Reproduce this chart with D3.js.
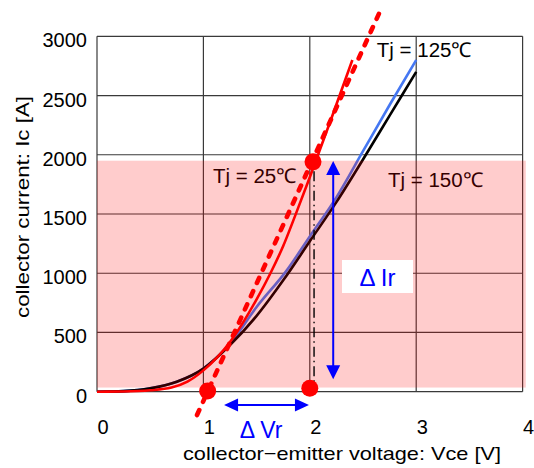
<!DOCTYPE html>
<html>
<head>
<meta charset="utf-8">
<script src="https://cdn.jsdelivr.net/npm/d3@7"></script>
<style>
  html, body { margin: 0; padding: 0; background: #fff; }
  svg { display: block; font-family: "Liberation Sans", Arial, sans-serif; }
</style>
</head>
<body>
<svg id="chart" width="534" height="468"></svg>
<script>
// Output characteristics Ic–Vce at three junction temperatures
const vce25  = [0, 0.25, 0.5, 0.7, 0.85, 1.0, 1.25, 1.5, 1.63, 1.75, 1.86, 2.0, 2.2, 2.4];
const ic25   = [0, 2, 12, 35, 85, 180, 420, 780, 1000, 1230, 1480, 1810, 2300, 2800];
const vce125 = [0, 0.25, 0.5, 0.75, 1.0, 1.25, 1.5, 1.78, 2.0, 2.25, 2.5, 2.75, 3.0];
const ic125  = [0, 5, 28, 84, 195, 405, 715, 1020, 1310, 1640, 2030, 2420, 2800];
const vce150 = [0, 0.25, 0.5, 0.75, 1.0, 1.25, 1.5, 1.75, 2.0, 2.25, 2.5, 2.75, 3.0];
const ic150  = [0, 5, 28, 84, 195, 394, 640, 940, 1270, 1600, 1960, 2330, 2700];

// Linear approximation (threshold voltage and slope resistance)
const tangentV = [0.94, 2.653];
const tangentI = [-197, 3197];
const markerV  = [1.04, 2.0, 2.03];
const markerI  = [5, 30, 1940];

// Rated operating band and reference voltage
const bandV = [0, 4.03];
const bandI = [35, 1950];
const refV = 2.04;
const refI = [30, 1860];

// ΔIr / ΔVr spans
const dIrV = 2.22;
const dIrI = [105, 1948];
const dVrI = -112;
const dVrV = [1.194, 1.992];

const xTicks = [0, 1, 2, 3, 4];
const yTicks = [0, 500, 1000, 1500, 2000, 2500, 3000];

const svg = d3.select("#chart");
const x = d3.scaleLinear().domain([0, 4]).range([97, 522.6]);
const y = d3.scaleLinear().domain([0, 3000]).range([391.7, 36.3]);

const gridColor = "#3a3a3a";

// grid
const grid = svg.append("g");
grid.selectAll("line.v").data(xTicks).join("line")
  .attr("x1", d => x(d)).attr("x2", d => x(d))
  .attr("y1", y(3000)).attr("y2", y(0))
  .attr("stroke", gridColor).attr("stroke-width", 1.2);
grid.selectAll("line.h").data(yTicks).join("line")
  .attr("x1", x(0)).attr("x2", x(4))
  .attr("y1", d => y(d)).attr("y2", d => y(d))
  .attr("stroke", gridColor).attr("stroke-width", 1.2);

// tick labels
svg.append("g").selectAll("text").data(yTicks).join("text")
  .attr("x", 87).attr("y", d => y(d) + 11)
  .attr("text-anchor", "end").attr("font-size", 20).attr("fill", "#000")
  .text(d => d);
svg.append("g").selectAll("text").data(xTicks).join("text")
  .attr("x", d => x(d) + 6).attr("y", 434)
  .attr("text-anchor", "middle").attr("font-size", 20).attr("fill", "#000")
  .text(d => d);

// axis titles
svg.append("text")
  .attr("x", 342).attr("y", 460).attr("text-anchor", "middle")
  .attr("font-size", 19).attr("textLength", 318).attr("lengthAdjust", "spacingAndGlyphs")
  .text("collector\u2212emitter voltage: Vce [V]");
svg.append("text")
  .attr("transform", "translate(29,207) rotate(-90)").attr("text-anchor", "middle")
  .attr("font-size", 19).attr("textLength", 222).attr("lengthAdjust", "spacingAndGlyphs")
  .text("collector current: Ic [A]");

const line = d3.line().x(d => x(d[0])).y(d => y(d[1])).curve(d3.curveMonotoneX);
const zip = (a, b) => a.map((v, i) => [v, b[i]]);

// curves: 125 °C first so the 150 °C trace lies over it where they coincide
svg.append("path").attr("d", line(zip(vce125, ic125)))
  .attr("fill", "none").attr("stroke", "#4577f2").attr("stroke-width", 2.6);
svg.append("path").attr("d", line(zip(vce150, ic150)))
  .attr("fill", "none").attr("stroke", "#000").attr("stroke-width", 2.6);

// curve labels (sit beneath the shaded band)
svg.append("text").attr("x", x(1.09)).attr("y", y(1760))
  .attr("font-size", 20.5).attr("fill", "#000").text("Tj = 25\u2103");
svg.append("text").attr("x", x(2.735)).attr("y", y(1726))
  .attr("font-size", 20.5).attr("fill", "#000").text("Tj = 150\u2103");
svg.append("text").attr("x", x(2.63)).attr("y", y(2825))
  .attr("font-size", 20.5).attr("fill", "#000").text("Tj = 125\u2103");

// shaded operating band
svg.append("rect")
  .attr("x", x(bandV[0])).attr("width", x(bandV[1]) - x(bandV[0]))
  .attr("y", y(bandI[1])).attr("height", y(bandI[0]) - y(bandI[1]))
  .attr("fill", "rgba(255,0,0,0.2)");

// 25 °C curve and its linear approximation
svg.append("path").attr("d", line(zip(vce25, ic25)))
  .attr("fill", "none").attr("stroke", "#ff0000").attr("stroke-width", 2.6);
svg.append("path").attr("d", d3.line().x(d => x(d[0])).y(d => y(d[1]))(zip(tangentV, tangentI)))
  .attr("fill", "none").attr("stroke", "#ff0000").attr("stroke-width", 4.6)
  .attr("stroke-dasharray", "5.5,9").attr("stroke-linecap", "round");

// reference voltage (dash-dot)
svg.append("line")
  .attr("x1", x(refV)).attr("x2", x(refV))
  .attr("y1", y(refI[1])).attr("y2", y(refI[0]))
  .attr("stroke", "#000").attr("stroke-width", 1.4)
  .attr("stroke-dasharray", "10,4,1.5,4");

// markers
svg.append("g").selectAll("circle").data(zip(markerV, markerI)).join("circle")
  .attr("cx", d => x(d[0])).attr("cy", d => y(d[1])).attr("r", 8.5)
  .attr("fill", "#ff0000");

// double arrows
const blue = "#0000ff";
const ah = 14, aw = 7;
// ΔIr (vertical)
{
  const cx = x(dIrV), top = y(dIrI[1]), bot = y(dIrI[0]);
  svg.append("line").attr("x1", cx).attr("x2", cx).attr("y1", top + ah - 1).attr("y2", bot - ah + 1)
    .attr("stroke", blue).attr("stroke-width", 2);
  svg.append("path").attr("d", `M${cx},${top} L${cx - aw},${top + ah} L${cx + aw},${top + ah} Z`).attr("fill", blue);
  svg.append("path").attr("d", `M${cx},${bot} L${cx - aw},${bot - ah} L${cx + aw},${bot - ah} Z`).attr("fill", blue);
}
// ΔVr (horizontal)
{
  const cy = y(dVrI), l = x(dVrV[0]), r = x(dVrV[1]);
  svg.append("line").attr("x1", l + ah - 1).attr("x2", r - ah + 1).attr("y1", cy).attr("y2", cy)
    .attr("stroke", blue).attr("stroke-width", 2);
  svg.append("path").attr("d", `M${l},${cy} L${l + ah},${cy - 6.5} L${l + ah},${cy + 6.5} Z`).attr("fill", blue);
  svg.append("path").attr("d", `M${r},${cy} L${r - ah},${cy - 6.5} L${r - ah},${cy + 6.5} Z`).attr("fill", blue);
}

// ΔIr label box
svg.append("rect").attr("x", 342).attr("y", 260).attr("width", 71).attr("height", 33).attr("fill", "#fff");
svg.append("text").attr("x", 377.5).attr("y", 286).attr("text-anchor", "middle")
  .attr("font-size", 24).attr("fill", blue).text("\u0394 Ir");
svg.append("text").attr("x", 261).attr("y", 438).attr("text-anchor", "middle")
  .attr("font-size", 23).attr("fill", blue).text("\u0394 Vr");
</script>
</body>
</html>
